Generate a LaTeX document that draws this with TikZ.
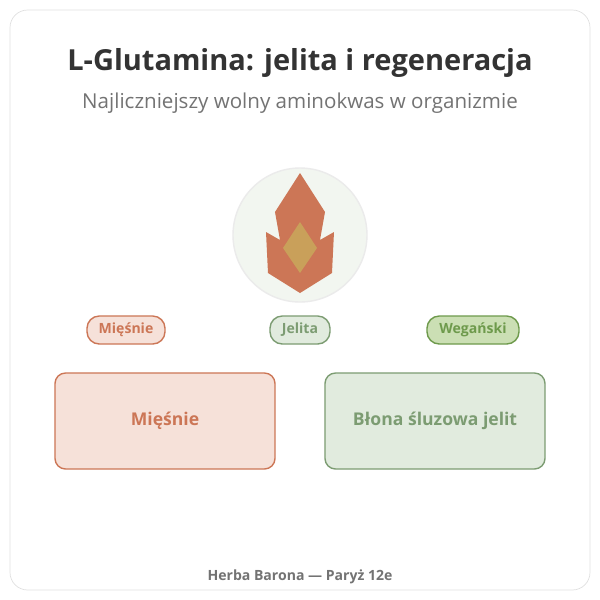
\documentclass[tikz,border=0pt]{standalone}
\usepackage{fontspec}
\setmainfont{Open Sans}
\definecolor{rust}{HTML}{CC7656}
\definecolor{rustfill}{HTML}{F6E1D9}
\definecolor{sage}{HTML}{7C9C72}
\definecolor{sagefill}{HTML}{E1EBDE}
\definecolor{leaf}{HTML}{6E9A4C}
\definecolor{leaffill}{HTML}{CBDFB4}
\definecolor{ochre}{HTML}{C9A05A}
\begin{document}
\begin{tikzpicture}
        [
            x=0.02cm, y=-0.02cm,
            pill/.style={rectangle, rounded corners=7pt, thick, minimum height=28*0.02cm, font=\bfseries\footnotesize},
            card/.style={rectangle, rounded corners=6pt, thick, minimum width=220*0.02cm, minimum height=96*0.02cm, font=\bfseries}
        ]
        \useasboundingbox (0,0) rectangle (600,600);
        % frame
        \draw[black!12, fill=white, rounded corners=10pt] (10,10) rectangle (590,590);
        \node[font=\bfseries\fontsize{16.5}{20}\selectfont, text=black!80] (title) at (300,63) {L-Glutamina: jelita i regeneracja};
        \node[font=\fontsize{11.7}{14}\selectfont, text=black!55] (sub) at (300,103) {Najliczniejszy wolny aminokwas w organizmie};
        % icon
        \draw[fill=sagefill!45, draw=black!8, thick] (300,235) circle (67);
        \fill[rust] (300,173) -- (325,212) -- (320,240) -- (334,232) -- (332,273) -- (300,293) -- (268,273) -- (266,232) -- (280,240) -- (275,212) -- cycle;
        \fill[ochre] (300,222) -- (317,248) -- (300,273) -- (283,248) -- cycle;
        % pills
        \node[pill, draw=rust, fill=rustfill, text=rust, minimum width=78*0.02cm] (p1) at (126,330) {Mięśnie};
        \node[pill, draw=sage, fill=sagefill, text=sage, minimum width=60*0.02cm] (p2) at (300,330) {Jelita};
        \node[pill, draw=leaf, fill=leaffill, text=leaf, minimum width=92*0.02cm] (p3) at (473,330) {Wegański};
        % cards
        \node[card, draw=rust, fill=rustfill, text=rust] (c1) at (165,421) {Mięśnie};
        \node[card, draw=sage, fill=sagefill, text=sage] (c2) at (435,421) {Błona śluzowa jelit};
        \node[font=\bfseries\footnotesize, text=black!55] (foot) at (300,577) {Herba Barona — Paryż 12e};
    \end{tikzpicture}
\end{document}
